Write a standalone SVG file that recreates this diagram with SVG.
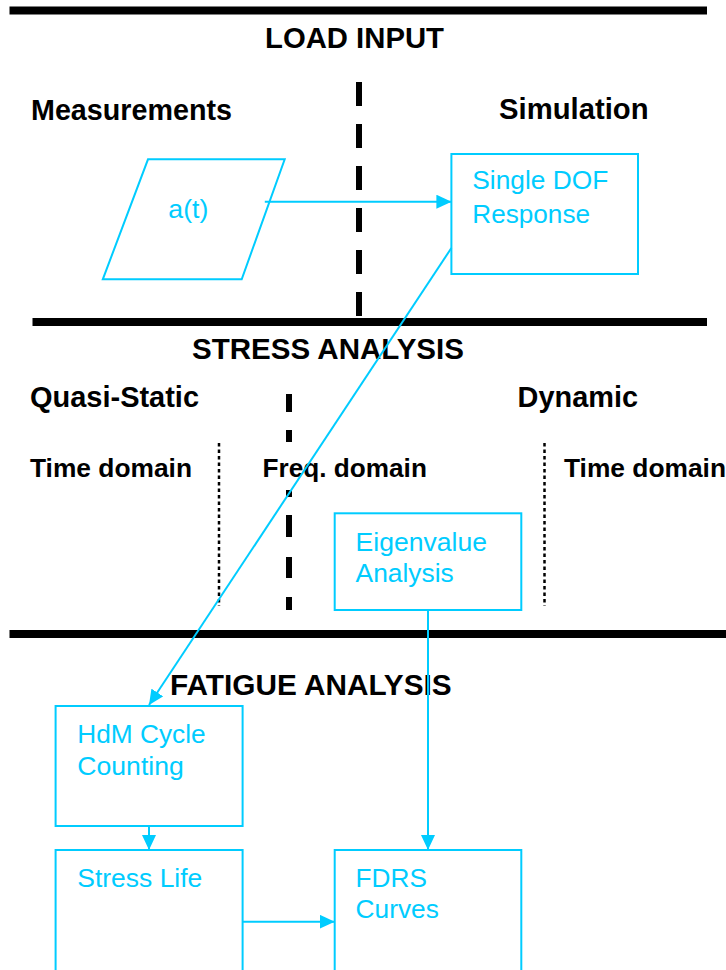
<svg xmlns="http://www.w3.org/2000/svg" width="726" height="970" viewBox="0 0 726 970">
  <style>
    .bg { fill: #ffffff; }
    .rule { stroke: #000000; stroke-width: 8; fill: none; }
    .dash { stroke: #000000; stroke-width: 6; fill: none; }
    .dot { stroke: #000000; stroke-width: 2.5; stroke-dasharray: 3.5 3; fill: none; }
    .head { font-family: "Liberation Sans", Arial, sans-serif; font-weight: bold; font-size: 29px; fill: #000000; }
    .sub { font-family: "Liberation Sans", Arial, sans-serif; font-weight: bold; font-size: 25px; fill: #000000; }
    .box { fill: #ffffff; stroke: #00CCFF; stroke-width: 2; }
    .lbl { font-family: "Liberation Sans", Arial, sans-serif; font-size: 25px; fill: #00CCFF; }
    .conn { stroke: #00CCFF; stroke-width: 2; fill: none; }
  </style>
  <defs>
    <marker id="arrow" viewBox="0 0 15 14" refX="15" refY="7" markerWidth="15" markerHeight="14" markerUnits="userSpaceOnUse" orient="auto">
      <path d="M0,0 L15,7 L0,14 Z" fill="#00CCFF"/>
    </marker>
  </defs>
  <rect class="bg" x="0" y="0" width="726" height="970"/>

  <!-- section dividers -->
  <g id="dividers">
    <line class="rule" x1="9.5" y1="10.5" x2="707" y2="10.5"/>
    <line class="rule" x1="32.5" y1="322" x2="707" y2="322"/>
    <line class="rule" x1="9.5" y1="634" x2="726" y2="634"/>
    <line class="dash" x1="359" y1="82" x2="359" y2="316" stroke-dasharray="24 18"/>
    <path class="dash" d="M289,394 V412 M289,430 V442 M289,490 V497 M289,515 V537 M289,557 V578 M289,597 V610"/>
    <line class="dot" x1="219" y1="443" x2="219" y2="606"/>
    <line class="dot" x1="544.5" y1="443" x2="544.5" y2="606"/>
  </g>

  <!-- headings -->
  <g id="headings">
    <text class="head" x="265" y="47.5" textLength="179" lengthAdjust="spacingAndGlyphs">LOAD INPUT</text>
    <text class="head" x="31" y="120" textLength="201" lengthAdjust="spacingAndGlyphs">Measurements</text>
    <text class="head" x="499" y="119.3" textLength="149.6" lengthAdjust="spacingAndGlyphs">Simulation</text>
    <text class="head" x="192" y="359.3" textLength="272" lengthAdjust="spacingAndGlyphs">STRESS ANALYSIS</text>
    <text class="head" x="30" y="407.3" textLength="169" lengthAdjust="spacingAndGlyphs">Quasi-Static</text>
    <text class="head" x="517.6" y="407.3" textLength="120.4" lengthAdjust="spacingAndGlyphs">Dynamic</text>
    <text class="sub" x="30" y="476.7" textLength="162" lengthAdjust="spacingAndGlyphs">Time domain</text>
    <text class="sub" x="262.5" y="476.7" textLength="164.4" lengthAdjust="spacingAndGlyphs">Freq. domain</text>
    <text class="sub" x="564" y="476.7" textLength="162" lengthAdjust="spacingAndGlyphs">Time domain</text>
    <text class="head" x="170" y="695" textLength="281.7" lengthAdjust="spacingAndGlyphs">FATIGUE ANALYSIS</text>
  </g>

  <!-- nodes -->
  <g id="node-at">
    <polygon class="box" points="148,159.3 284.7,159.3 241.7,279.3 102.8,279.3"/>
    <text class="lbl" x="168.3" y="218.3" textLength="40" lengthAdjust="spacingAndGlyphs">a(t)</text>
  </g>
  <g id="node-sdof">
    <rect class="box" x="451.4" y="154" width="186.6" height="120"/>
    <text class="lbl" x="472.3" y="189.3" textLength="136" lengthAdjust="spacingAndGlyphs">Single DOF</text>
    <text class="lbl" x="472.3" y="222.7" textLength="117.7" lengthAdjust="spacingAndGlyphs">Response</text>
  </g>
  <g id="node-eigen">
    <rect class="box" x="334.7" y="513.3" width="186.6" height="96.7"/>
    <text class="lbl" x="355.6" y="550.7" textLength="131.5" lengthAdjust="spacingAndGlyphs">Eigenvalue</text>
    <text class="lbl" x="355.6" y="582.3" textLength="98.1" lengthAdjust="spacingAndGlyphs">Analysis</text>
  </g>
  <g id="node-hdm">
    <rect class="box" x="55.6" y="706" width="187" height="120"/>
    <text class="lbl" x="77.3" y="743.3" textLength="128.4" lengthAdjust="spacingAndGlyphs">HdM Cycle</text>
    <text class="lbl" x="77.3" y="774.5" textLength="106.5" lengthAdjust="spacingAndGlyphs">Counting</text>
  </g>
  <g id="node-stresslife">
    <rect class="box" x="55.6" y="850" width="187" height="125"/>
    <text class="lbl" x="77.3" y="886.7" textLength="125" lengthAdjust="spacingAndGlyphs">Stress Life</text>
  </g>
  <g id="node-fdrs">
    <rect class="box" x="334.7" y="850" width="186.6" height="125"/>
    <text class="lbl" x="355.6" y="886.7" textLength="71.3" lengthAdjust="spacingAndGlyphs">FDRS</text>
    <text class="lbl" x="355.6" y="918.3" textLength="83.3" lengthAdjust="spacingAndGlyphs">Curves</text>
  </g>

  <!-- connectors -->
  <g id="connectors">
    <line class="conn" x1="264.8" y1="201.7" x2="451.4" y2="201.7" marker-end="url(#arrow)"/>
    <line class="conn" x1="451.4" y1="248" x2="149" y2="705" marker-end="url(#arrow)"/>
    <line class="conn" x1="428" y1="610" x2="428" y2="850" marker-end="url(#arrow)"/>
    <line class="conn" x1="149" y1="826" x2="149" y2="850" marker-end="url(#arrow)"/>
    <line class="conn" x1="242.6" y1="921.7" x2="334.7" y2="921.7" marker-end="url(#arrow)"/>
  </g>
</svg>
